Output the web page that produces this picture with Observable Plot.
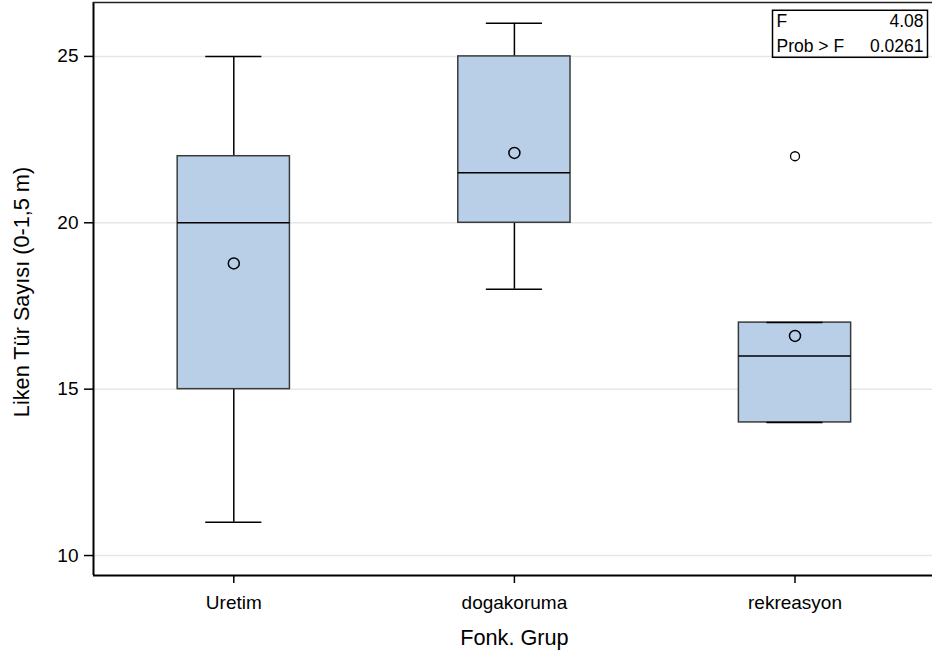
<!DOCTYPE html>
<html>
<head>
<meta charset="utf-8">
<script src="https://cdn.jsdelivr.net/npm/d3@7"></script>
<script src="https://cdn.jsdelivr.net/npm/@observablehq/plot@0.6"></script>
<style>
  html, body { margin: 0; padding: 0; background: #fff; }
</style>
</head>
<body>
<div id="chart"></div>
<script>
const groups = ["Uretim", "dogakoruma", "rekreasyon"];
const whiskerLow = [11, 18, 14];
const q1 = [15, 20, 14];
const median = [20, 21.5, 16];
const q3 = [22, 25, 17];
const whiskerHigh = [25, 26, 17];
const means = [18.78, 22.1, 16.6];
const outliers = [{group: "rekreasyon", value: 22}];
const yTicks = [10, 15, 20, 25];
const statLabels = ["F", "Prob > F"];
const statValues = ["4.08", "0.0261"];
const xTitle = "Fonk. Grup";
const yTitle = "Liken Tür Sayısı (0-1,5 m)";

const idx = groups.map((_, i) => i);
const yDomain = [9.4, 26.62];
const font = "'Liberation Sans', Arial, Helvetica, sans-serif";

const svg = Plot.plot({
  width: 932,
  height: 659,
  marginLeft: 93,
  marginRight: 0,
  marginTop: 2,
  marginBottom: 84,
  style: {fontFamily: font, fontSize: "19px", color: "#000", background: "#fff", overflow: "visible"},
  x: {domain: [-0.5, 2.49], axis: null},
  y: {domain: yDomain, axis: null},
  marks: [
    Plot.ruleY(yTicks, {stroke: "#e6e6e6", strokeWidth: 1.5}),
    Plot.ruleX(idx, {x: i => i, y1: i => whiskerLow[i], y2: i => whiskerHigh[i], stroke: "#000", strokeWidth: 1.5}),
    Plot.rect(idx, {x1: i => i - 0.2, x2: i => i + 0.2, y1: i => q1[i], y2: i => q3[i], fill: "#b8cfe7", stroke: "#3a3a3a", strokeWidth: 1.5}),
    Plot.ruleY(idx, {y: i => whiskerLow[i], x1: i => i - 0.1, x2: i => i + 0.1, stroke: "#000", strokeWidth: 1.5}),
    Plot.ruleY(idx, {y: i => whiskerHigh[i], x1: i => i - 0.1, x2: i => i + 0.1, stroke: "#000", strokeWidth: 1.5}),
    Plot.ruleY(idx, {y: i => median[i], x1: i => i - 0.2, x2: i => i + 0.2, stroke: "#000", strokeWidth: 1.5}),
    Plot.dot(idx, {x: i => i, y: i => means[i], r: 5.5, stroke: "#000", strokeWidth: 1.5, fill: "none"}),
    Plot.dot(outliers, {x: d => groups.indexOf(d.group), y: "value", r: 4.5, stroke: "#000", strokeWidth: 1.3, fill: "none"}),
    Plot.axisY({ticks: yTicks, tickSize: 9, tickPadding: 6, strokeWidth: 1.5, label: null}),
    Plot.axisX({ticks: idx, tickFormat: i => groups[i], tickSize: 8, tickPadding: 12, strokeWidth: 1.5, label: null}),
    Plot.ruleX([-0.5], {stroke: "#000", strokeWidth: 2}),
    Plot.ruleY([yDomain[0]], {stroke: "#000", strokeWidth: 2}),
    Plot.ruleY([yDomain[1]], {stroke: "#222", strokeWidth: 1.5}),
    Plot.text([xTitle], {x: 1, frameAnchor: "bottom", dy: 63, textAnchor: "middle", lineAnchor: "middle", fontSize: 21.7, fill: "#000"}),
    Plot.text([yTitle], {frameAnchor: "left", dx: -71, dy: 3, rotate: -90, textAnchor: "middle", lineAnchor: "middle", fontSize: 21.7, fill: "#000"}),
    Plot.text([statLabels.join("\n")], {frameAnchor: "top-right", dx: -156, dy: 7, textAnchor: "start", lineAnchor: "top", lineHeight: 1.43, fontSize: 17.5, fill: "#000"}),
    Plot.text([statValues.join("\n")], {frameAnchor: "top-right", dx: -9, dy: 7, textAnchor: "end", lineAnchor: "top", lineHeight: 1.43, fontSize: 17.5, fill: "#000"})
  ]
});

document.getElementById("chart").appendChild(svg);

// box around the statistics table, sized from the rendered text
const textGroups = Array.from(svg.querySelectorAll('g[aria-label="text"]'));
const statGroups = textGroups.slice(-2);
const sr = svg.getBoundingClientRect();
let x0 = Infinity, y0 = Infinity, x1 = -Infinity, y1 = -Infinity;
for (const g of statGroups) {
  const b = g.getBoundingClientRect();
  x0 = Math.min(x0, b.left - sr.left); y0 = Math.min(y0, b.top - sr.top);
  x1 = Math.max(x1, b.right - sr.left); y1 = Math.max(y1, b.bottom - sr.top);
}
d3.select(svg).append("rect")
  .attr("x", x0 - 4).attr("y", y0 - 1)
  .attr("width", x1 - x0 + 8).attr("height", y1 - y0 + 2)
  .attr("fill", "none").attr("stroke", "#000").attr("stroke-width", 1.5);
</script>
</body>
</html>
